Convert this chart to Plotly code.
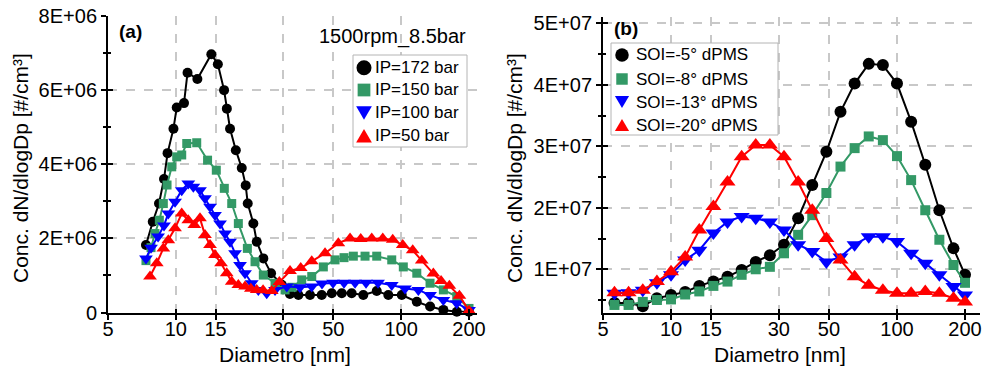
import math
import plotly.graph_objects as go

W, H = 987, 368
FONT = "Liberation Sans, Arial, sans-serif"

# ---------------- Panel (a): 1500rpm_8.5bar, injection pressure ----------------
a_names = ["IP=172 bar", "IP=150 bar", "IP=100 bar", "IP=50 bar"]

a172_d = [7.37, 7.90, 8.42, 8.86, 9.19, 9.76, 10.09, 10.87, 11.27, 12.46,
          14.37, 15.36, 16.37, 16.84, 17.40, 18.46, 19.61, 20.42, 20.85, 22.08,
          22.86, 24.45, 26.46, 29.51, 32.1, 35.0, 39.4, 44.4, 49.2, 54.5,
          60.3, 67.9, 77.9, 87.7, 100.6, 117.3, 134.4, 153.9, 176.6, 200]
a172_n = [1.82, 2.45, 2.94, 3.60, 4.30, 4.96, 5.53, 5.65, 6.47, 6.30,
          6.97, 6.70, 6.00, 5.50, 4.96, 4.38, 3.90, 3.43, 2.94, 2.40,
          1.91, 1.46, 1.06, 0.75, 0.50, 0.47, 0.47, 0.47, 0.52, 0.52,
          0.52, 0.47, 0.58, 0.47, 0.47, 0.29, 0.16, 0.07, 0.02, 0.02]

a150_d = [7.37, 7.76, 8.08, 8.45, 8.80, 9.14, 9.59, 10.09, 10.62, 11.18,
          12.38, 13.83, 15.12, 16.41, 17.70, 18.94, 20.77, 22.46, 24.45, 27.56,
          30.53, 32.78, 36.20, 40.10, 45.14, 50.87, 55.77, 61.33, 69.12, 77.89,
          90.80, 102.2, 117.3, 134.3, 153.9, 176.5, 200]
a150_n = [1.40, 1.75, 2.13, 2.49, 2.94, 3.44, 3.93, 4.20, 4.25, 4.56,
          4.58, 4.11, 3.84, 3.35, 2.94, 2.40, 1.73, 1.37, 1.01, 0.79,
          0.61, 0.68, 0.88, 0.97, 1.23, 1.42, 1.48, 1.52, 1.52, 1.52,
          1.42, 1.23, 1.06, 0.79, 0.61, 0.43, 0.11]

a100_d = [7.37, 7.76, 8.34, 8.86, 9.26, 9.92, 10.62, 11.36, 11.96, 12.80,
          13.47, 14.18, 14.92, 15.71, 16.53, 17.40, 18.31, 19.27, 20.28, 21.72,
          23.23, 25.31, 27.56, 31.07, 35.57, 40.10, 44.54, 49.85, 55.77, 62.42,
          69.83, 78.94, 90.80, 104.0, 119.2, 134.3, 153.9, 176.5, 200]
a100_n = [1.46, 1.75, 2.05, 2.35, 2.67, 2.99, 3.30, 3.48, 3.39, 3.30,
          3.08, 2.85, 2.63, 2.40, 2.13, 1.91, 1.60, 1.28, 1.06, 0.79,
          0.61, 0.52, 0.61, 0.70, 0.68, 0.70, 0.78, 0.80, 0.80, 0.80,
          0.80, 0.80, 0.74, 0.65, 0.61, 0.47, 0.34, 0.25, 0.07]

a50_d = [7.68, 8.23, 8.80, 9.26, 9.92, 10.62, 11.36, 12.08, 12.80, 13.47,
         14.18, 14.92, 15.87, 16.82, 17.70, 18.94, 20.28, 21.52, 22.85, 24.38,
         26.65, 28.80, 32.12, 35.83, 40.10, 45.93, 52.62, 59.31, 66.15, 74.02,
         82.84, 91.74, 101.6, 112.5, 123.4, 138.9, 150.3, 163.6, 181.3, 200]
a50_n = [0.97, 1.33, 1.73, 1.95, 2.27, 2.67, 2.49, 2.36, 2.54, 2.09,
         1.82, 1.55, 1.33, 1.06, 0.83, 0.74, 0.70, 0.64, 0.61, 0.60,
         0.58, 0.82, 1.12, 1.20, 1.38, 1.60, 1.87, 2.00, 1.98, 2.00,
         2.00, 1.96, 1.82, 1.68, 1.40, 1.05, 0.85, 0.72, 0.45, 0.05]
a_scale = 1e6

# ---------------- Panel (b): start of injection ----------------
b_names = ["SOI=-5° dPMS", "SOI=-8° dPMS", "SOI=-13° dPMS", "SOI=-20° dPMS"]
b_d = [5.62, 6.49, 7.50, 8.66, 10.0, 11.55, 13.34, 15.40, 17.78, 20.54,
       23.71, 27.38, 31.62, 36.52, 42.17, 48.70, 56.23, 64.94, 74.99, 86.60,
       100.0, 115.5, 133.4, 154.0, 177.8, 200]
b5_n = [0.45, 0.45, 0.40, 0.53, 0.58, 0.63, 0.73, 0.80, 0.88, 0.99,
        1.12, 1.23, 1.40, 1.83, 2.37, 2.91, 3.56, 4.02, 4.34, 4.32,
        4.02, 3.40, 2.70, 1.96, 1.34, 0.91]
b8_n = [0.42, 0.42, 0.47, 0.50, 0.51, 0.59, 0.64, 0.73, 0.80, 0.91,
        1.00, 1.04, 1.26, 1.56, 1.88, 2.24, 2.67, 2.97, 3.16, 3.10,
        2.84, 2.45, 1.96, 1.48, 1.07, 0.78]
b13_n = [0.61, 0.62, 0.66, 0.78, 0.91, 1.15, 1.31, 1.59, 1.77, 1.86,
         1.83, 1.77, 1.64, 1.40, 1.29, 1.12, 1.20, 1.40, 1.53, 1.53,
         1.45, 1.26, 1.10, 0.91, 0.72, 0.58]
b20_n = [0.62, 0.62, 0.66, 0.80, 0.96, 1.20, 1.64, 2.02, 2.42, 2.83,
         3.02, 3.02, 2.83, 2.42, 1.96, 1.50, 1.15, 0.88, 0.74, 0.66,
         0.61, 0.61, 0.64, 0.61, 0.53, 0.47]
b_scale = 1e7

x_tickvals = [5, 10, 15, 30, 50, 100, 200]
x_ticktext = ["5", "10", "15", "30", "50", "100", "200"]
x_gridvals = [10, 15, 30, 50, 100]
a_yticks = [0, 2e6, 4e6, 6e6, 8e6]
a_ytext = ["0", "2E+06", "4E+06", "6E+06", "8E+06"]
b_yticks = [1e7, 2e7, 3e7, 4e7, 5e7]
b_ytext = ["1E+07", "2E+07", "3E+07", "4E+07", "5E+07"]

colors = ["#000000", "#339966", "#0000ff", "#ff0000"]
symbols = ["circle", "square", "triangle-down", "triangle-up"]

fig = go.Figure()

a_series = [(a172_d, a172_n), (a150_d, a150_n), (a100_d, a100_n), (a50_d, a50_n)]
a_sizes = [10, 9, 12, 12]
for (d, n), c, s, sz in zip(a_series, colors, symbols, a_sizes):
    fig.add_trace(go.Scatter(
        x=d, y=[v * a_scale for v in n], xaxis="x", yaxis="y",
        mode="lines+markers", line=dict(color=c, width=2),
        marker=dict(color=c, symbol=s, size=sz, line=dict(width=0)),
        showlegend=False, cliponaxis=False))

b_series = [b5_n, b8_n, b13_n, b20_n]
b_sizes = [12, 10, 14, 14]
for n, c, s, sz in zip(b_series, colors, symbols, b_sizes):
    fig.add_trace(go.Scatter(
        x=b_d, y=[v * b_scale for v in n], xaxis="x2", yaxis="y2",
        mode="lines+markers", line=dict(color=c, width=2),
        marker=dict(color=c, symbol=s, size=sz, line=dict(width=0)),
        showlegend=False, cliponaxis=False))

# empty traces so that the overlay axes (inner half of the crossing ticks) are drawn
for xa, ya in [("x3", "y3"), ("x4", "y4")]:
    fig.add_trace(go.Scatter(x=[None], y=[None], xaxis=xa, yaxis=ya,
                             showlegend=False, hoverinfo="skip"))

grid = dict(color="#c8c8c8", dash="dash", width=1.5)
XR_A = [math.log10(5), math.log10(217)]
XR_B = [math.log10(5), math.log10(233)]
YR_A = [0, 8e6]
YR_B = [2.94e6, 5.107e7]


def px_x(p):
    return p / W


def px_y(p):
    return 1 - p / H


DOM_XA = [px_x(108), px_x(477)]
DOM_XB = [px_x(603), px_x(980)]
DOM_YA = [px_y(312.5), px_y(16)]
DOM_YB = [px_y(312.7), px_y(16.7)]


def xaxis(domain, rng, anchor):
    return dict(type="log", domain=domain, range=rng, anchor=anchor, automargin=False,
                tickmode="array", tickvals=x_tickvals, ticktext=x_ticktext,
                ticks="outside", ticklen=5, tickwidth=2, tickcolor="black",
                ticklabelstandoff=-8,
                showline=True, linewidth=2, linecolor="black",
                showgrid=False, zeroline=False,
                minor=dict(tickmode="array", tickvals=x_gridvals, ticks="",
                           showgrid=True, gridcolor=grid["color"],
                           griddash=grid["dash"], gridwidth=grid["width"]),
                tickfont=dict(size=20, color="black"))


def xaxis_in(overlay, rng, anchor):
    return dict(type="log", overlaying=overlay, range=rng, anchor=anchor,
                automargin=False, tickmode="array", tickvals=x_tickvals,
                ticks="inside", ticklen=4, tickwidth=2, tickcolor="black",
                showticklabels=False, showline=False, showgrid=False, zeroline=False)


def yaxis(domain, rng, anchor, tv, tt, minor_dtick):
    return dict(domain=domain, range=rng, anchor=anchor, automargin=False,
                tickmode="array", tickvals=tv, ticktext=tt,
                ticks="outside", ticklen=5, tickwidth=2, tickcolor="black",
                showline=True, linewidth=2, linecolor="black",
                showgrid=True, gridcolor=grid["color"], griddash=grid["dash"],
                gridwidth=grid["width"], zeroline=False,
                minor=dict(dtick=minor_dtick, tick0=0, ticks="outside", ticklen=3,
                           tickwidth=2, tickcolor="black", showgrid=False),
                tickfont=dict(size=20, color="black"))


def yaxis_in(overlay, rng, anchor, tv, minor_dtick):
    return dict(overlaying=overlay, range=rng, anchor=anchor, automargin=False,
                tickmode="array", tickvals=tv,
                ticks="inside", ticklen=5, tickwidth=2, tickcolor="black",
                showticklabels=False, showline=False, showgrid=False, zeroline=False,
                minor=dict(dtick=minor_dtick, tick0=0, ticks="inside", ticklen=3,
                           tickwidth=2, tickcolor="black", showgrid=False))


annotations = [
    dict(text="Conc. dN/dlogDp [#/cm³]", x=px_x(20), y=px_y(168), textangle=-90,
         font=dict(size=21)),
    dict(text="Conc. dN/dlogDp [#/cm³]", x=px_x(514), y=px_y(168), textangle=-90,
         font=dict(size=21)),
    dict(text="Diametro [nm]", x=px_x(285), y=px_y(354), font=dict(size=21)),
    dict(text="Diametro [nm]", x=px_x(780), y=px_y(354), font=dict(size=21)),
    dict(text="<b>(a)</b>", x=px_x(130), y=px_y(32), font=dict(size=19)),
    dict(text="<b>(b)</b>", x=px_x(626), y=px_y(28), font=dict(size=19)),
    dict(text="1500rpm_8.5bar", x=px_x(392), y=px_y(36), font=dict(size=20)),
]
for a in annotations:
    a.update(xref="paper", yref="paper", showarrow=False, xanchor="center",
             yanchor="middle")

# ---------------- legends drawn as boxed keys (marker only, as in the reference) ----
shapes = []


def key_shape(symbol, cx, cy, size, color):
    r = size / 2
    base = dict(xref="paper", yref="paper", fillcolor=color, line=dict(width=0),
                layer="above")
    if symbol == "circle":
        base.update(type="circle", x0=px_x(cx - r), x1=px_x(cx + r),
                    y0=px_y(cy + r), y1=px_y(cy - r))
    elif symbol == "square":
        r *= 0.85
        base.update(type="rect", x0=px_x(cx - r), x1=px_x(cx + r),
                    y0=px_y(cy + r), y1=px_y(cy - r))
    else:
        h = r * 0.9
        w = r * 1.05
        if symbol == "triangle-down":
            pts = [(cx - w, cy - h), (cx + w, cy - h), (cx, cy + h)]
        else:
            pts = [(cx - w, cy + h), (cx + w, cy + h), (cx, cy - h)]
        path = "M " + " L ".join(f"{px_x(x):.5f},{px_y(y):.5f}" for x, y in pts) + " Z"
        base.update(type="path", path=path)
    return base


def add_legend(box, names, rows, key_x, text_x, key_size, font_size):
    x0, y0, x1, y1 = box
    shapes.append(dict(type="rect", xref="paper", yref="paper", layer="above",
                       x0=px_x(x0), x1=px_x(x1), y0=px_y(y1), y1=px_y(y0),
                       fillcolor="white", line=dict(color="#b4b4b4", width=1)))
    for name, c, s, cy in zip(names, colors, symbols, rows):
        shapes.append(key_shape(s, key_x, cy, key_size, c))
        annotations.append(dict(text=name, x=px_x(text_x), y=px_y(cy), xref="paper",
                                yref="paper", xanchor="left", yanchor="middle",
                                showarrow=False, font=dict(size=font_size)))


add_legend((353, 55, 467, 147), a_names, [67.7, 90, 113, 135.7], 364, 373, 15, 17)
add_legend((611, 43, 778, 135), b_names, [55, 79, 102, 125], 622, 634, 13.5, 17)

fig.update_layout(
    width=W, height=H, margin=dict(l=0, r=0, t=0, b=0, autoexpand=False),
    paper_bgcolor="white", plot_bgcolor="rgba(0,0,0,0)",
    font=dict(family=FONT, color="black"),
    showlegend=False,
    xaxis=xaxis(DOM_XA, XR_A, "y"),
    yaxis=yaxis(DOM_YA, YR_A, "x", a_yticks, a_ytext, 1e6),
    xaxis2=xaxis(DOM_XB, XR_B, "y2"),
    yaxis2=yaxis(DOM_YB, YR_B, "x2", b_yticks, b_ytext, 5e6),
    xaxis3=xaxis_in("x", XR_A, "y3"),
    yaxis3=yaxis_in("y", YR_A, "x3", a_yticks, 1e6),
    xaxis4=xaxis_in("x2", XR_B, "y4"),
    yaxis4=yaxis_in("y2", YR_B, "x4", b_yticks, 5e6),
    annotations=annotations,
    shapes=shapes,
)

fig.write_html("out.html", config={"displayModeBar": False},
               post_script="document.body.style.margin='0px';")
